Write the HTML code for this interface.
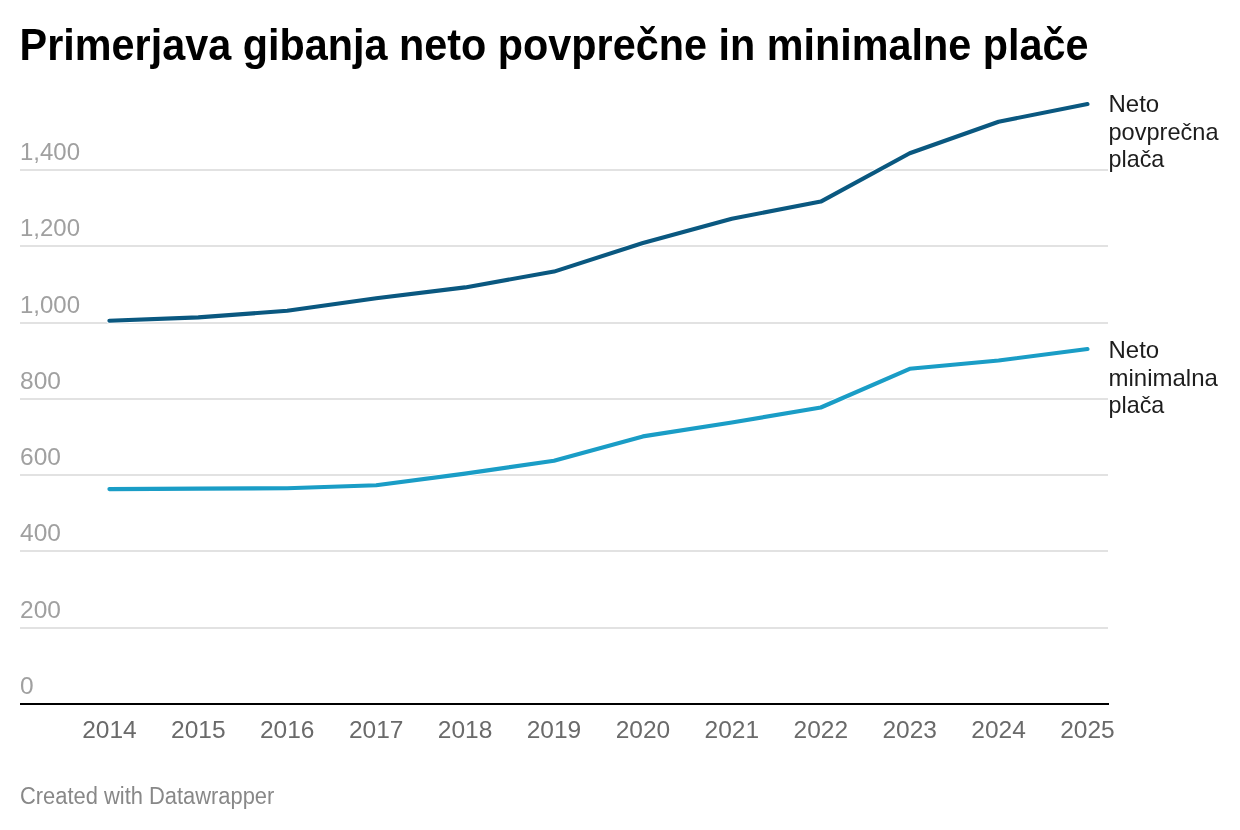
<!DOCTYPE html>
<html><head><meta charset="utf-8"><style>
html,body{margin:0;padding:0;background:#fff;width:1240px;height:830px;overflow:hidden}
svg{position:absolute;left:0;top:0;display:block;will-change:transform}
text{font-family:"Liberation Sans", sans-serif}
.ti{font-size:45px;font-weight:bold;fill:#000}
.yl{font-size:24.5px;fill:#a0a0a0}
.xl{font-size:24.5px;fill:#6a6a6a}
.lb{font-size:24px;fill:#1d1d1d}
.ft{font-size:23px;fill:#888}
.ln{fill:none;stroke-linecap:round;stroke-linejoin:round}
</style></head><body>
<svg width="1240" height="830" viewBox="0 0 1240 830">
<rect x="20" y="169" width="1088" height="2" fill="#e2e2e2"/>
<rect x="20" y="245" width="1088" height="2" fill="#e2e2e2"/>
<rect x="20" y="322" width="1088" height="2" fill="#e2e2e2"/>
<rect x="20" y="398" width="1088" height="2" fill="#e2e2e2"/>
<rect x="20" y="474" width="1088" height="2" fill="#e2e2e2"/>
<rect x="20" y="550" width="1088" height="2" fill="#e2e2e2"/>
<rect x="20" y="627" width="1088" height="2" fill="#e2e2e2"/>
<rect x="20" y="703" width="1089" height="2" fill="#000"/>
<text x="20" y="159.8" class="yl" textLength="60" lengthAdjust="spacingAndGlyphs">1,400</text>
<text x="20" y="235.8" class="yl" textLength="60" lengthAdjust="spacingAndGlyphs">1,200</text>
<text x="20" y="312.8" class="yl" textLength="60" lengthAdjust="spacingAndGlyphs">1,000</text>
<text x="20" y="388.8" class="yl">800</text>
<text x="20" y="464.8" class="yl">600</text>
<text x="20" y="540.8" class="yl">400</text>
<text x="20" y="617.8" class="yl">200</text>
<text x="20" y="693.8" class="yl">0</text>
<text x="109.4" y="738" class="xl" text-anchor="middle">2014</text>
<text x="198.3" y="738" class="xl" text-anchor="middle">2015</text>
<text x="287.2" y="738" class="xl" text-anchor="middle">2016</text>
<text x="376.2" y="738" class="xl" text-anchor="middle">2017</text>
<text x="465.1" y="738" class="xl" text-anchor="middle">2018</text>
<text x="554.0" y="738" class="xl" text-anchor="middle">2019</text>
<text x="642.9" y="738" class="xl" text-anchor="middle">2020</text>
<text x="731.8" y="738" class="xl" text-anchor="middle">2021</text>
<text x="820.8" y="738" class="xl" text-anchor="middle">2022</text>
<text x="909.7" y="738" class="xl" text-anchor="middle">2023</text>
<text x="998.6" y="738" class="xl" text-anchor="middle">2024</text>
<text x="1087.5" y="738" class="xl" text-anchor="middle">2025</text>
<polyline points="109.4,320.7 198.3,317.4 287.2,310.8 376.2,298.3 465.1,287.4 554.0,271.6 642.9,243.0 731.8,218.7 820.8,201.6 909.7,153.3 998.6,121.7 1087.5,104.1" class="ln" stroke="#fff" stroke-width="6"/>
<polyline points="109.4,320.7 198.3,317.4 287.2,310.8 376.2,298.3 465.1,287.4 554.0,271.6 642.9,243.0 731.8,218.7 820.8,201.6 909.7,153.3 998.6,121.7 1087.5,104.1" class="ln" stroke="#0a5880" stroke-width="4.1"/>
<polyline points="109.4,489.1 198.3,488.6 287.2,488.3 376.2,485.3 465.1,473.6 554.0,460.8 642.9,436.4 731.8,422.5 820.8,407.5 909.7,368.8 998.6,360.5 1087.5,349.0" class="ln" stroke="#fff" stroke-width="6"/>
<polyline points="109.4,489.1 198.3,488.6 287.2,488.3 376.2,485.3 465.1,473.6 554.0,460.8 642.9,436.4 731.8,422.5 820.8,407.5 909.7,368.8 998.6,360.5 1087.5,349.0" class="ln" stroke="#1a9dc6" stroke-width="4.1"/>
<text x="19.6" y="60" class="ti" textLength="1069" lengthAdjust="spacingAndGlyphs">Primerjava gibanja neto povprečne in minimalne plače</text>
<text x="1108.5" y="111.9" class="lb">Neto</text>
<text x="1108.5" y="139.7" class="lb" textLength="110" lengthAdjust="spacingAndGlyphs">povprečna</text>
<text x="1108.5" y="167.4" class="lb" textLength="55.8" lengthAdjust="spacingAndGlyphs">plača</text>
<text x="1108.5" y="357.8" class="lb">Neto</text>
<text x="1108.5" y="385.7" class="lb">minimalna</text>
<text x="1108.5" y="413.2" class="lb" textLength="55.8" lengthAdjust="spacingAndGlyphs">plača</text>
<text x="20" y="803.7" class="ft" textLength="254.3" lengthAdjust="spacingAndGlyphs">Created with Datawrapper</text>
</svg>
</body></html>
